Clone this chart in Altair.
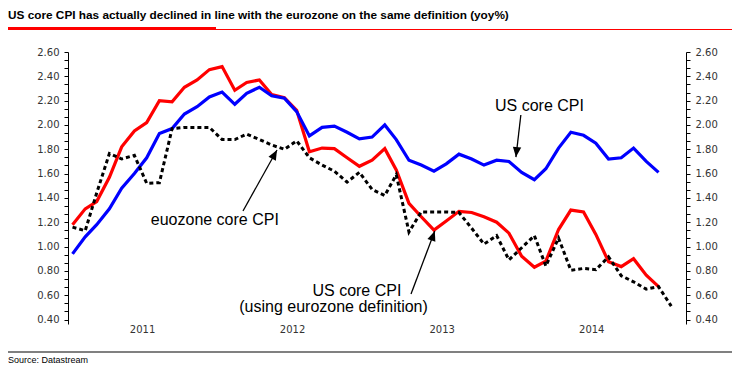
import altair as alt
import pandas as pd

# ---------------- data ----------------
month_labels = [f"{y}-{m:02d}" for y in range(2011, 2016) for m in range(1, 13)][:50]

us_core = [0.94, 1.08, 1.18, 1.31, 1.48, 1.60, 1.73, 1.93, 1.97, 2.09, 2.15, 2.23,
           2.27, 2.17, 2.26, 2.31, 2.24, 2.22, 2.11, 1.91, 1.98, 1.99, 1.94, 1.885,
           1.90, 2.00, 1.88, 1.71, 1.67, 1.62, 1.68, 1.76, 1.72, 1.67, 1.71, 1.70,
           1.61, 1.55, 1.64, 1.81, 1.94, 1.915, 1.85, 1.72, 1.73, 1.81, 1.70, 1.61]

us_core_ez_def = [1.18, 1.31, 1.37, 1.57, 1.82, 1.95, 2.02, 2.20, 2.19, 2.31, 2.37, 2.455,
                  2.48, 2.285, 2.35, 2.37, 2.25, 2.225, 2.12, 1.78, 1.81, 1.805, 1.73, 1.66,
                  1.71, 1.805, 1.63, 1.355, 1.245, 1.135, 1.21, 1.29, 1.28, 1.245, 1.20, 1.11,
                  0.92, 0.83, 0.88, 1.14, 1.30, 1.285, 1.10, 0.875, 0.835, 0.90, 0.765, 0.67]

ez_core = [1.16, 1.13, 1.44, 1.765, 1.72, 1.75, 1.52, 1.525, 1.97, 1.98, 1.98, 1.98,
           1.88, 1.88, 1.925, 1.88, 1.835, 1.80, 1.87, 1.73, 1.67, 1.62, 1.53, 1.61,
           1.47, 1.42, 1.59, 1.12, 1.285, 1.285, 1.285, 1.28, 1.15, 1.02, 1.09, 0.89,
           0.99, 1.09, 0.84, 1.07, 0.805, 0.82, 0.81, 0.915, 0.76, 0.71, 0.65, 0.67, 0.51]

year_labels = ["2011", "2012", "2013", "2014"]
y_ticks = [round(0.4 + k * 0.2 / 3, 4) for k in range(34)]

title_text = "US core CPI has actually declined in line with the eurozone on the same definition (yoy%)"
source_text = "Source: Datastream"

# annotations: text labels and arrows (in data coordinates)
ann_left = pd.DataFrame({
    "text": ["US core CPI", "euozone core CPI"],
    "date": ["2013-11-08T00:00:00", "2011-07-22T00:00:00"],
    "value": [2.152, 1.222],
})
ann_center = pd.DataFrame({
    "text": ["US core CPI", "(using eurozone definition)"],
    "date": ["2012-12-06T00:00:00", "2012-10-10T00:00:00"],
    "value": [0.637, 0.500],
})
ann_arrow = pd.DataFrame({
    "d1": ["2014-01-10T00:00:00", "2012-03-03T00:00:00", "2013-04-17T00:00:00"],
    "v1": [2.082, 1.292, 0.610],
    "d2": ["2013-12-29T00:00:00", "2012-05-25T00:00:00", "2013-06-14T00:00:00"],
    "v2": [1.736, 1.794, 1.128],
    "angle": [186.6, 28.9, 19.7],
})


def frame(vals):
    return pd.DataFrame({
        "date": [f"{m}-12T00:00:00" for m in month_labels[:len(vals)]],
        "value": vals,
    })


# ---------------- scales / axes ----------------
xs = alt.Scale(domain=[alt.DateTime(year=2011, month=1, date=1),
                       alt.DateTime(year=2015, month=2, date=17)])
ys = alt.Scale(domain=[0.363, 2.60], nice=False, zero=False)

tick_dates = [alt.DateTime(year=int(s[:4]), month=int(s[5:7]), date=1) for s in month_labels]
x_axis = alt.Axis(values=tick_dates, labels=False, title=None, grid=False,
                  domainColor="black", tickColor="black", domainWidth=1,
                  tickSize={"condition": {"test": "month(datum.value) === 0", "value": 5}, "value": 2})

label_expr = "abs(datum.value*5 - round(datum.value*5)) < 0.001 ? format(datum.value, '.2f') : ''"
common_y = dict(values=y_ticks, labelExpr=label_expr, title=None, grid=False,
                domainColor="black", tickColor="black", tickSize=4, labelPadding=5,
                labelFont="DejaVu Sans", labelFontSize=10, labelColor="#333333",
                labelOverlap=False, labelFlush=False)
y_left = alt.Axis(orient="left", **common_y)
y_right = alt.Axis(orient="right", **common_y)

red = alt.Chart(frame(us_core_ez_def)).mark_line(color="#ff0000", strokeWidth=3.2).encode(
    x=alt.X("date:T", scale=xs, axis=x_axis),
    y=alt.Y("value:Q", scale=ys, axis=y_left),
)
blue = alt.Chart(frame(us_core)).mark_line(color="#0000ff", strokeWidth=3.2).encode(
    x=alt.X("date:T", scale=xs, axis=None),
    y=alt.Y("value:Q", scale=ys, axis=y_right),
)
black = alt.Chart(frame(ez_core)).mark_line(color="black", strokeWidth=3, strokeDash=[4, 3]).encode(
    x=alt.X("date:T", scale=xs, axis=None),
    y=alt.Y("value:Q", scale=ys, axis=None),
)

ann_font = "Liberation Sans, Arial, sans-serif"
texts_left = alt.Chart(ann_left).mark_text(font=ann_font, fontSize=16, baseline="middle",
                                           align="left", color="black").encode(
    x=alt.X("date:T", scale=xs, axis=None),
    y=alt.Y("value:Q", scale=ys, axis=None),
    text="text:N",
)
texts_center = alt.Chart(ann_center).mark_text(font=ann_font, fontSize=16, baseline="middle",
                                               align="center", color="black").encode(
    x=alt.X("date:T", scale=xs, axis=None),
    y=alt.Y("value:Q", scale=ys, axis=None),
    text="text:N",
)

arrows = alt.Chart(ann_arrow).mark_rule(color="black", strokeWidth=1.3).encode(
    x=alt.X("d1:T", scale=xs, axis=None),
    y=alt.Y("v1:Q", scale=ys, axis=None),
    x2="d2:T",
    y2="v2:Q",
)
heads = alt.Chart(ann_arrow).mark_point(
    shape="M0,0L-0.42,1L0.42,1Z", filled=True, fill="black", strokeWidth=0, opacity=1, size=400
).encode(
    x=alt.X("d2:T", scale=xs, axis=None),
    y=alt.Y("v2:Q", scale=ys, axis=None),
    angle=alt.Angle("angle:Q", scale=None),
)

years_df = pd.DataFrame({"year": year_labels, "date": [f"{y}-07-02T00:00:00" for y in year_labels]})
years = alt.Chart(years_df).mark_text(font="DejaVu Sans", fontSize=10, baseline="top",
                                      align="center", color="#333333").encode(
    x=alt.X("date:T", scale=xs, axis=None),
    y=alt.value(273),
    text="year:N",
)

sans = "Liberation Sans, Arial, sans-serif"
title = alt.Chart(pd.DataFrame({"t": [title_text]})).mark_text(
    font=sans, fontSize=11.8, fontWeight="bold", align="left", baseline="alphabetic", color="black"
).encode(x=alt.value(-60), y=alt.value(-33), text="t:N")

underline_thick = alt.Chart(pd.DataFrame({"a": [0]})).mark_rect(color="#ff0000").encode(
    x=alt.value(-60), x2=alt.value(148), y=alt.value(-25), y2=alt.value(-22))
underline_thin = alt.Chart(pd.DataFrame({"a": [0]})).mark_rule(color="#ff0000", strokeWidth=1).encode(
    x=alt.value(148), x2=alt.value(664), y=alt.value(-22.5))

bottom_line = alt.Chart(pd.DataFrame({"a": [0]})).mark_rule(color="#808080", strokeWidth=2).encode(
    x=alt.value(-60), x2=alt.value(664), y=alt.value(300))
source = alt.Chart(pd.DataFrame({"t": [source_text]})).mark_text(
    font=sans, fontSize=9, align="left", baseline="alphabetic", color="black"
).encode(x=alt.value(-60), y=alt.value(311), text="t:N")

chart = alt.layer(
    red, blue, black, arrows, heads, texts_left, texts_center, years,
    title, underline_thick, underline_thin, bottom_line, source,
).resolve_axis(y="independent").properties(
    width=618, height=272,
    padding={"left": 60, "top": 44, "right": 46, "bottom": 50},
    autosize=alt.AutoSizeParams(type="none"),
    background="white",
).configure_view(strokeWidth=0)

chart.save("out.html", embed_options={"renderer": "svg", "actions": False})
